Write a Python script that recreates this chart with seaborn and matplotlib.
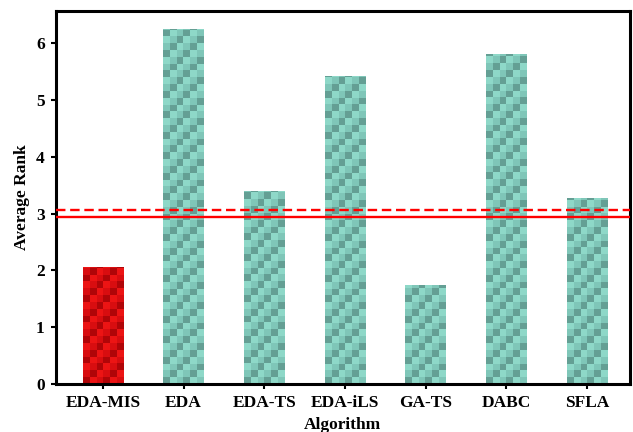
import numpy as np
import pandas as pd
import matplotlib
matplotlib.use("Agg")
import matplotlib.pyplot as plt
from matplotlib.colors import ListedColormap
import seaborn as sns

# Average Friedman rank of each algorithm
algorithms = ["EDA-MIS", "EDA", "EDA-TS", "EDA-iLS", "GA-TS", "DABC", "SFLA"]
avg_rank = [2.07, 6.25, 3.40, 5.42, 1.74, 5.82, 3.27]

# Critical-difference thresholds
cd_dashed = 3.07
cd_solid = 2.95

sns.set_theme(style="white")
plt.rcParams["font.family"] = ["Liberation Serif", "DejaVu Serif"]
plt.rcParams["font.weight"] = "bold"
for key in ["text.color", "axes.labelcolor", "xtick.color", "ytick.color"]:
    plt.rcParams[key] = "black"

df = pd.DataFrame({"Algorithm": algorithms, "Average Rank": avg_rank})

# base / mid / dark shades for the checkered fills
teal_shades = ["#8ed8c8", "#7fc6b8", "#649f94"]
red_shades = ["#ec1414", "#d80d10", "#b00508"]
palette = {a: (red_shades[0] if a == "EDA-MIS" else teal_shades[0]) for a in algorithms}

fig = plt.figure(figsize=(6.33, 4.32), dpi=100)
ax = fig.add_axes([0.0885, 0.111, 0.9065, 0.8635])

sns.barplot(data=df, x="Algorithm", y="Average Rank", hue="Algorithm",
            palette=palette, legend=False, width=0.5, ax=ax,
            edgecolor="none", linewidth=0)

# checkered texture clipped to each bar
cell_y = 0.12
for patch, name in zip(ax.patches, algorithms):
    x0, y0 = patch.get_x(), patch.get_y()
    w, h = patch.get_width(), patch.get_height()
    ncol = 6
    nrow = int(np.ceil(h / cell_y)) + 1
    rr, cc = np.mgrid[0:nrow, 0:ncol]
    pattern = (cc - rr) % 3
    pattern = np.where(pattern == 0, 2, np.where(pattern == 1, 0, 1))
    shades = red_shades if name == "EDA-MIS" else teal_shades
    im = ax.imshow(pattern, cmap=ListedColormap(shades), vmin=0, vmax=2,
                   extent=(x0, x0 + w, y0, y0 + nrow * cell_y),
                   origin="lower", aspect="auto", interpolation="nearest",
                   zorder=patch.get_zorder() + 0.1)
    im.set_clip_path(patch)

ax.axhline(cd_dashed, color="#ff0000", lw=1.7, ls=(0, (4, 2)), zorder=5)
ax.axhline(cd_solid, color="#ff0000", lw=1.7, zorder=5)

ax.set_xlim(-0.58, 6.53)
ax.set_ylim(0, 6.57)
ax.set_yticks(range(0, 7))

for side in ["top", "right", "bottom", "left"]:
    ax.spines[side].set_visible(True)
    ax.spines[side].set_linewidth(2.2)
    ax.spines[side].set_color("black")

ax.tick_params(axis="both", which="major", direction="out", length=3.6,
               width=1.5, color="black", labelcolor="black", labelsize=12.5,
               pad=4.5, bottom=True, left=True, top=False, right=False)
for lbl in ax.get_xticklabels() + ax.get_yticklabels():
    lbl.set_fontweight("bold")

ax.set_xlabel("Algorithm", fontsize=12.5, fontweight="bold", labelpad=4)
ax.set_ylabel("Average Rank", fontsize=12.5, fontweight="bold", labelpad=4)

fig.savefig("out.png", dpi=100)
